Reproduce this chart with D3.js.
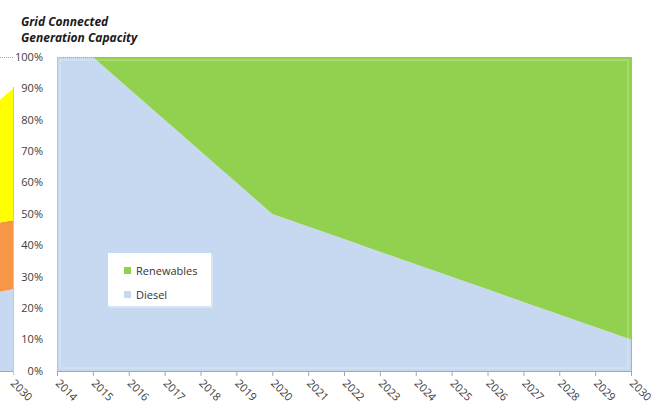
<!DOCTYPE html>
<html>
<head>
<meta charset="utf-8">
<script src="https://cdn.jsdelivr.net/npm/d3@7"></script>
<style>
  body { margin: 0; background: #fff; }
  svg { display: block; font-family: "Open Sans", "Noto Sans", sans-serif; }
  .tick-label { font-size: 11px; fill: #404040; }
</style>
</head>
<body>
<div id="chart"></div>
<script>
// main chart data (share of grid connected capacity)
const years = ['2014', '2015', '2016', '2017', '2018', '2019', '2020', '2021', '2022',
  '2023', '2024', '2025', '2026', '2027', '2028', '2029', '2030'];
const diesel = [1.00, 1.00, 0.90, 0.80, 0.70, 0.60, 0.50, 0.46, 0.42,
  0.38, 0.34, 0.30, 0.26, 0.22, 0.18, 0.14, 0.10];
const renewables = [0.00, 0.00, 0.10, 0.20, 0.30, 0.40, 0.50, 0.54, 0.58,
  0.62, 0.66, 0.70, 0.74, 0.78, 0.82, 0.86, 0.90];
const yTicks = [0, 0.1, 0.2, 0.3, 0.4, 0.5, 0.6, 0.7, 0.8, 0.9, 1.0];
const seriesNames = ['Renewables', 'Diesel'];
const titleLines = ['Grid Connected', 'Generation Capacity'];

// edge of the neighbouring chart that is cut off on the left
const leftYears = [2029, 2030];
const leftBlue = [0.24, 0.26];
const leftOrange = [0.22, 0.22];
const leftYellow = [0.34, 0.42];

const width = 653;
const height = 407;
const colors = { Renewables: '#92D050', Diesel: '#C6D9F1' };

const svg = d3.select('#chart')
  .append('svg')
  .attr('width', width)
  .attr('height', height);

// title, one text per line
svg.append('g')
  .selectAll('text')
  .data(titleLines)
  .join('text')
  .attr('x', 21)
  .attr('y', (d, i) => 26 + i * 16)
  .style('font-size', '12px')
  .style('font-weight', 'bold')
  .style('font-style', 'italic')
  .style('fill', '#1a1a1a')
  .text(d => d);

const plot = { left: 57, right: 631, top: 57, bottom: 371 };

const x = d3.scalePoint().domain(years).range([plot.left, plot.right]);
const y = d3.scaleLinear().domain([0, 1]).range([plot.bottom, plot.top]);

// ---- left (cut off) chart ----
const xl = d3.scaleLinear().domain([2029, 2030]).range([-23, 13]);
const leftRows = leftYears.map((yr, i) => ({
  yr,
  blue: leftBlue[i],
  orange: leftOrange[i],
  yellow: leftYellow[i]
}));
const leftStack = d3.stack().keys(['blue', 'orange', 'yellow'])(leftRows);
const leftColors = { blue: '#C6D9F1', orange: '#F79646', yellow: '#FFFF00' };

svg.append('clipPath').attr('id', 'left-clip')
  .append('rect').attr('x', 0).attr('y', 0).attr('width', 13).attr('height', height);

const leftArea = d3.area()
  .x(d => xl(d.data.yr))
  .y0(d => y(d[0]))
  .y1(d => y(d[1]));

const leftG = svg.append('g').attr('clip-path', 'url(#left-clip)');
leftG.selectAll('path')
  .data(leftStack)
  .join('path')
  .attr('d', leftArea)
  .attr('fill', d => leftColors[d.key]);

svg.append('line')
  .attr('x1', 0).attr('x2', 13)
  .attr('y1', plot.top + 0.5).attr('y2', plot.top + 0.5)
  .attr('stroke', '#a6a6a6')
  .attr('stroke-dasharray', '1,1');
svg.append('line')
  .attr('x1', 13.5).attr('x2', 13.5)
  .attr('y1', plot.top + 30).attr('y2', plot.bottom + 4)
  .attr('stroke', '#c8c8c8');
svg.append('line')
  .attr('x1', 0).attr('x2', 13)
  .attr('y1', plot.bottom + 0.5).attr('y2', plot.bottom + 0.5)
  .attr('stroke', '#a6a6a6');
svg.append('text')
  .attr('class', 'tick-label')
  .attr('transform', `translate(${xl(2030) - 3},${plot.bottom + 13}) rotate(45)`)
  .text('2030');

// ---- main chart ----
const rows = years.map((yr, i) => ({ yr, Diesel: diesel[i], Renewables: renewables[i] }));
const stack = d3.stack().keys(['Diesel', 'Renewables'])(rows);

const area = d3.area()
  .x(d => x(d.data.yr))
  .y0(d => y(d[0]))
  .y1(d => y(d[1]));

svg.append('g')
  .selectAll('path')
  .data(stack)
  .join('path')
  .attr('d', area)
  .attr('fill', d => colors[d.key]);

// soft inner edge
svg.append('rect')
  .attr('x', plot.left + 3).attr('y', plot.top + 3)
  .attr('width', plot.right - plot.left - 6)
  .attr('height', plot.bottom - plot.top - 6)
  .attr('fill', 'none')
  .attr('stroke', '#ffffff')
  .attr('stroke-opacity', 0.18)
  .attr('stroke-width', 2);

// plot border
svg.append('line')
  .attr('x1', plot.left).attr('x2', plot.right + 1)
  .attr('y1', plot.top + 0.5).attr('y2', plot.top + 0.5)
  .attr('stroke', '#a6a6a6')
  .attr('stroke-dasharray', '1,1');
svg.append('line')
  .attr('x1', plot.right + 0.5).attr('x2', plot.right + 0.5)
  .attr('y1', plot.top).attr('y2', plot.bottom)
  .attr('stroke', '#b0b0b0');
svg.append('line')
  .attr('x1', plot.left + 0.5).attr('x2', plot.left + 0.5)
  .attr('y1', plot.top).attr('y2', plot.bottom)
  .attr('stroke', '#b4c3d6');

// y axis labels
svg.append('g')
  .selectAll('text')
  .data(yTicks)
  .join('text')
  .attr('class', 'tick-label')
  .attr('x', 43)
  .attr('y', d => y(d))
  .attr('dy', '0.35em')
  .attr('text-anchor', 'end')
  .text(d => d3.format('.0%')(d));

// x axis
const xAxis = d3.axisBottom(x).tickSize(5).tickFormat('');
const xg = svg.append('g')
  .attr('transform', `translate(0,${plot.bottom})`)
  .call(xAxis);
xg.select('.domain').attr('stroke', '#a6a6a6');
xg.selectAll('.tick line').attr('stroke', '#a6a6a6');

svg.append('g')
  .selectAll('text')
  .data(years)
  .join('text')
  .attr('class', 'tick-label')
  .attr('transform', d => `translate(${x(d) - 2},${plot.bottom + 13}) rotate(45)`)
  .text(d => d);

// legend
const legend = svg.append('g').attr('transform', 'translate(108,253)');
legend.append('rect')
  .attr('x', 1).attr('y', 1)
  .attr('width', 104).attr('height', 54)
  .attr('fill', '#dde6f2')
  .attr('opacity', 0.8);
legend.append('rect')
  .attr('width', 103).attr('height', 53)
  .attr('fill', '#ffffff');
const items = legend.selectAll('g.item')
  .data(seriesNames)
  .join('g')
  .attr('class', 'item')
  .attr('transform', (d, i) => `translate(16,${15 + i * 24})`);
items.append('rect')
  .attr('width', 7).attr('height', 7)
  .attr('y', -1)
  .attr('fill', d => colors[d]);
items.append('text')
  .attr('x', 12)
  .attr('y', 3)
  .attr('dy', '0.35em')
  .style('font-size', '11px')
  .style('fill', '#333')
  .text(d => d);
</script>
</body>
</html>
